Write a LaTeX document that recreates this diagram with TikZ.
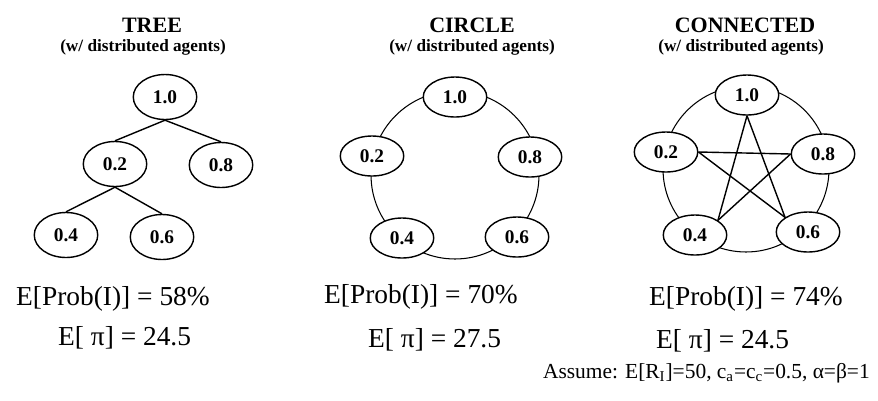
\documentclass[tikz,border=0pt]{standalone}
\usepackage{fontspec}
\setmainfont{Liberation Serif}
\usepackage{tikz}
\usetikzlibrary{shapes.geometric}

\begin{document}
\begin{tikzpicture}[
    x=0.02cm, y=-0.02cm,
    agent/.style={ellipse, draw, line width=0.8pt, fill=white,
                  minimum width=1.27cm, minimum height=0.8cm, inner sep=0pt,
                  font=\fontsize{11}{12}\selectfont\bfseries},
    treeagent/.style={agent, minimum height=0.9cm},
    title/.style={font=\fontsize{12.5}{14}\selectfont\bfseries},
    subtitle/.style={font=\fontsize{9.8}{11}\selectfont\bfseries},
    result/.style={anchor=base west, font=\fontsize{15.6}{18}\selectfont},
    link/.style={line width=0.8pt},
    ring/.style={line width=0.6pt}
]
\useasboundingbox (0,0) rectangle (878,400);

% tree
\node[title] (ttitle) at (152,25) {TREE};
\node[subtitle] (tsub) at (143,47) {(w/ distributed agents)};
\node[treeagent] (t1) at (165,97) {1.0};
\node[treeagent] (t2) at (115,164) {0.2};
\node[treeagent] (t8) at (221,165) {0.8};
\node[treeagent] (t4) at (66,235) {0.4};
\node[treeagent] (t6) at (162,237) {0.6};
\draw[link] (t1.south) -- (t2.north);
\draw[link] (t1.south) -- (t8.north);
\draw[link] (t2.south) -- (t4.north);
\draw[link] (t2.south) -- (t6.north);
\node[result] (tprob) at (10,305) {E[Prob(I)] = 58\%};
\node[result] (tpi) at (52,345) {E[ π] = 24.5};

% circle
\node[title] (ctitle) at (472,25) {CIRCLE};
\node[subtitle] (csub) at (472,47) {(w/ distributed agents)};
\draw[ring] (455,175) circle[radius=1.68cm];
\node[agent] (c1) at (455,97) {1.0};
\node[agent] (c2) at (372,156) {0.2};
\node[agent] (c8) at (530,157) {0.8};
\node[agent] (c4) at (402,238) {0.4};
\node[agent] (c6) at (517,237) {0.6};
\node[result] (cprob) at (318,303) {E[Prob(I)] = 70\%};
\node[result] (cpi) at (362,347) {E[ π] = 27.5};

% connected
\node[title] (ktitle) at (745,25) {CONNECTED};
\node[subtitle] (ksub) at (741,47) {(w/ distributed agents)};
\draw[ring] (746,169) circle[radius=1.66cm];
\node[agent] (k1) at (747,95) {1.0};
\node[agent] (k2) at (666,152) {0.2};
\node[agent] (k8) at (823,154) {0.8};
\node[agent] (k4) at (695,235) {0.4};
\node[agent] (k6) at (808,232) {0.6};
\draw[link] (k1.south) -- (k4.north east);
\draw[link] (k1.south) -- (k6.north west);
\draw[link] (k2.east) -- (k8.west);
\draw[link] (k2.east) -- (k6.north west);
\draw[link] (k8.west) -- (k4.north east);
\node[result] (kprob) at (643,305) {E[Prob(I)] = 74\%};
\node[result] (kpi) at (650,348) {E[ π] = 24.5};

\node[anchor=base east, font=\fontsize{12.2}{14}\selectfont] (assume) at (876,378)
    {Assume: E[R\textsubscript{I}]=50, c\textsubscript{a}=c\textsubscript{c}=0.5, α=β=1};
\end{tikzpicture}
\end{document}
